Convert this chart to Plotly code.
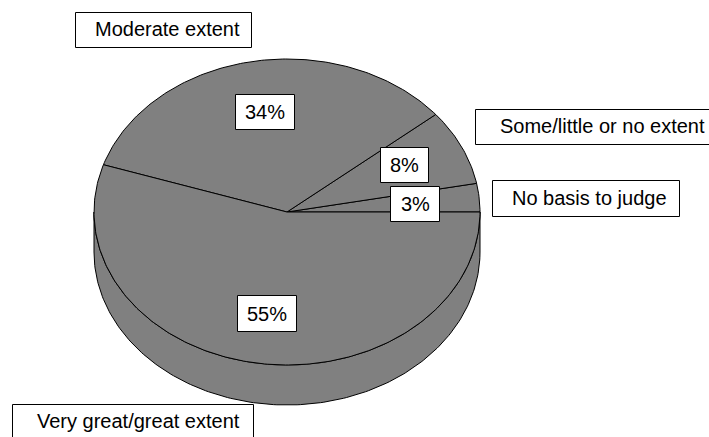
import numpy as np
import plotly.graph_objects as go

# Survey shares, counter-clockwise from the 3 o'clock position
categories = ["No basis to judge", "Some/little or no extent", "Moderate extent", "Very great/great extent"]
shares = [3, 8, 34, 55]

W, H = 709, 437
CX, CY = 287, 212      # pie centre in pixels
RX, RY = 193, 153      # pixel size of one data unit on each axis
DEPTH = 40 / RY        # height of the pie's side wall, in data units
GREY = "#808080"
FONT = "Liberation Sans, Arial, sans-serif"

# Pixel boxes (left, top, right, bottom) for the category captions and percent labels
caption_boxes = {
    "No basis to judge": (492.5, 180.5, 679.5, 216.5),
    "Some/little or no extent": (475.5, 109.5, 730, 144.5),
    "Moderate extent": (75.5, 12.5, 251.5, 47.5),
    "Very great/great extent": (12.5, 404.5, 253.5, 450),
}
caption_text_x = {
    "No basis to judge": 589.5,
    "Some/little or no extent": 602,
    "Moderate extent": 167.5,
    "Very great/great extent": 138,
}
caption_text_y = {
    "No basis to judge": 198,
    "Some/little or no extent": 126,
    "Moderate extent": 29,
    "Very great/great extent": 421,
}
percent_boxes = {
    "No basis to judge": (390.5, 186.5, 439.5, 221.5),
    "Some/little or no extent": (380.5, 147.5, 428.5, 182.5),
    "Moderate extent": (235.5, 94.5, 294.5, 129.5),
    "Very great/great extent": (237.5, 295.5, 296.5, 331.5),
}


def px(x):
    return x / W


def py(y):
    return 1 - y / H


fig = go.Figure()

# Side wall along the front half of the rim
front = np.linspace(np.pi, 2 * np.pi, 181)
wall_x = np.concatenate([np.cos(front), np.cos(front[::-1])])
wall_y = np.concatenate([np.sin(front) - DEPTH, np.sin(front[::-1])])
fig.add_trace(go.Scatter(
    x=np.append(wall_x, wall_x[0]), y=np.append(wall_y, wall_y[0]),
    mode="lines", fill="toself", fillcolor=GREY,
    line=dict(color="black", width=1), hoverinfo="skip", showlegend=False,
))

# Top face: one wedge per category
start = 0.0
for name, share in zip(categories, shares):
    end = start + share / sum(shares) * 2 * np.pi
    t = np.linspace(start, end, max(int(share * 4), 4))
    fig.add_trace(go.Scatter(
        x=np.concatenate([[0], np.cos(t), [0]]),
        y=np.concatenate([[0], np.sin(t), [0]]),
        mode="lines", fill="toself", fillcolor=GREY,
        line=dict(color="black", width=1), name=name,
        hoverinfo="skip", showlegend=False,
    ))
    start = end

shapes = []
annotations = []


def add_box(box):
    x0, y0, x1, y1 = box
    shapes.append(dict(
        type="rect", xref="paper", yref="paper",
        x0=px(x0), x1=px(x1), y0=py(y0), y1=py(y1),
        fillcolor="white", line=dict(color="black", width=1),
    ))


def add_text(text, x, y):
    annotations.append(dict(
        text=text, xref="paper", yref="paper", x=px(x), y=py(y),
        xanchor="center", yanchor="middle", showarrow=False,
        font=dict(family=FONT, size=20, color="black"),
    ))


for name, share in zip(categories, shares):
    add_box(caption_boxes[name])
    add_text(name, caption_text_x[name], caption_text_y[name])
    box = percent_boxes[name]
    add_box(box)
    add_text(f"{share}%", (box[0] + box[2]) / 2, (box[1] + box[3]) / 2)

fig.update_layout(
    width=W, height=H,
    margin=dict(l=0, r=0, t=0, b=0),
    paper_bgcolor="white", plot_bgcolor="white",
    xaxis=dict(range=[-CX / RX, (W - CX) / RX], visible=False, fixedrange=True),
    yaxis=dict(range=[-(H - CY) / RY, CY / RY], visible=False, fixedrange=True),
    shapes=shapes, annotations=annotations,
)

fig.write_html("out.html", config=dict(displayModeBar=False))
